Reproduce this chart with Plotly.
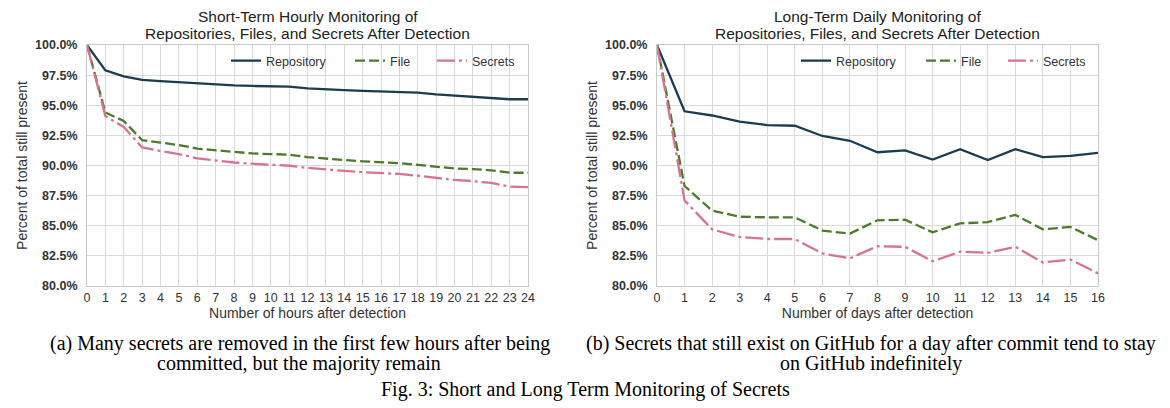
import plotly.graph_objects as go

hours = list(range(25))
hourly_repo = [100, 97.9, 97.4, 97.1, 97.0, 96.9, 96.8, 96.75, 96.65, 96.6, 96.6, 96.55, 96.4,
               96.3, 96.25, 96.2, 96.15, 96.1, 96.05, 95.9, 95.8, 95.75, 95.65, 95.5, 95.5]
hourly_file = [100, 94.4, 93.7, 92.1, 91.9, 91.7, 91.4, 91.25, 91.1, 91.0, 90.95, 90.9, 90.7,
               90.55, 90.45, 90.35, 90.3, 90.2, 90.05, 89.9, 89.75, 89.7, 89.6, 89.4, 89.4]
hourly_secrets = [100, 94.1, 93.2, 91.5, 91.2, 90.95, 90.6, 90.4, 90.25, 90.15, 90.05, 89.98, 89.8,
                  89.65, 89.55, 89.45, 89.4, 89.3, 89.15, 88.95, 88.8, 88.7, 88.55, 88.25, 88.2]

days = list(range(17))
daily_repo = [100, 94.5, 94.15, 93.65, 93.35, 93.3, 92.45, 92.05, 91.1, 91.25, 90.5, 91.35,
              90.45, 91.35, 90.7, 90.8, 91.05]
daily_file = [100, 88.3, 86.25, 85.75, 85.7, 85.7, 84.6, 84.35, 85.45, 85.5, 84.45, 85.2,
              85.3, 85.9, 84.7, 84.9, 83.8]
daily_secrets = [100, 87.1, 84.7, 84.07, 83.9, 83.9, 82.7, 82.3, 83.3, 83.25, 82.05, 82.85,
                 82.75, 83.25, 81.95, 82.2, 81.05]

series_names = ["Repository", "File", "Secrets"]
colors = ["#1d3b4f", "#4d7a2a", "#d77390"]
dashes = ["solid", "10px,4px", "18px,4px,3px,4px"]

y_ticks = [80, 82.5, 85, 87.5, 90, 92.5, 95, 97.5, 100]
y_ticklabels = [f"{v:.1f}%" for v in y_ticks]

# page body has an 8px margin, so the figure is placed at (8, 8) in the window
OFF = 8
W, H = 1170 - OFF, 408 - OFF


def px_x(v):
    return (v - OFF) / W


def px_y(v):
    return 1 - (v - OFF) / H


L1, R1 = px_x(87), px_x(528)
L2, R2 = px_x(657), px_x(1098)
T, B = px_y(45), px_y(286)

# legend item left positions (window pixels) for each panel
legend_px = [[226, 350, 432], [796, 921, 1003]]

fig = go.Figure()
legend_layouts = {}
k = 0
for p, (xs, data, xa, ya) in enumerate([
        (hours, [hourly_repo, hourly_file, hourly_secrets], "x", "y"),
        (days, [daily_repo, daily_file, daily_secrets], "x2", "y2")]):
    for i, (name, ys) in enumerate(zip(series_names, data)):
        k += 1
        lname = "legend" if k == 1 else f"legend{k}"
        fig.add_trace(go.Scatter(x=xs, y=ys, mode="lines", name=name,
                                 line=dict(color=colors[i], width=2.3, dash=dashes[i]),
                                 xaxis=xa, yaxis=ya, legend=lname))
        legend_layouts[lname] = dict(
            orientation="h", x=px_x(legend_px[p][i]), xanchor="left",
            y=px_y(61), yanchor="middle", bgcolor="rgba(0,0,0,0)",
            font=dict(family="Liberation Sans", size=12.5, color="#333333"),
            borderwidth=0, itemwidth=30)

axis_common = dict(showgrid=True, gridcolor="#dadada", gridwidth=1, showline=True,
                   linecolor="#c8c8c8", linewidth=1, mirror=True, zeroline=False,
                   automargin=False, ticks="",
                   tickfont=dict(family="Liberation Sans", size=12.5, color="#333333"))

fig.update_layout(
    width=W, height=H,
    margin=dict(l=0, r=0, t=0, b=0, autoexpand=False),
    paper_bgcolor="white", plot_bgcolor="white",
    font=dict(family="Liberation Sans", color="#333333"),
    xaxis=dict(domain=[L1, R1], anchor="y", range=[0, 24], tickmode="linear", dtick=1, tick0=0,
               title=dict(text="Number of hours after detection", font=dict(size=14), standoff=3),
               **axis_common),
    yaxis=dict(domain=[B, T], anchor="x", range=[80, 100], tickmode="array", tickvals=y_ticks,
               ticktext=[f"<b>{t}</b>" for t in y_ticklabels], ticklabelstandoff=6,
               title=dict(text="Percent of total still present", font=dict(size=14), standoff=4),
               **axis_common),
    xaxis2=dict(domain=[L2, R2], anchor="y2", range=[0, 16], tickmode="linear", dtick=1, tick0=0,
                title=dict(text="Number of days after detection", font=dict(size=14), standoff=3),
                **axis_common),
    yaxis2=dict(domain=[B, T], anchor="x2", range=[80, 100], tickmode="array", tickvals=y_ticks,
                ticktext=[f"<b>{t}</b>" for t in y_ticklabels], ticklabelstandoff=6,
                title=dict(text="Percent of total still present", font=dict(size=14), standoff=4),
                **axis_common),
    showlegend=True,
    **legend_layouts,
)

titles = [
    ("Short-Term Hourly Monitoring of", (L1 + R1) / 2, 17),
    ("Repositories, Files, and Secrets After Detection", (L1 + R1) / 2, 33),
    ("Long-Term Daily Monitoring of", (L2 + R2) / 2, 17),
    ("Repositories, Files, and Secrets After Detection", (L2 + R2) / 2, 33),
]
for text, x, ypx in titles:
    fig.add_annotation(text=text, x=x, y=px_y(ypx), xref="paper", yref="paper",
                       showarrow=False, xanchor="center", yanchor="middle",
                       font=dict(family="Liberation Sans", size=15.5, color="#222222"))

captions = [
    ("(a) Many secrets are removed in the first few hours after being", 300, 343),
    ("committed, but the majority remain", 299, 363),
    ("(b) Secrets that still exist on GitHub for a day after commit tend to stay", 871, 343),
    ("on GitHub indefinitely", 871, 363),
    ("Fig. 3: Short and Long Term Monitoring of Secrets", 585, 389),
]
for text, xpx, ypx in captions:
    fig.add_annotation(text=text, x=px_x(xpx), y=px_y(ypx), xref="paper", yref="paper",
                       showarrow=False, xanchor="center", yanchor="middle",
                       font=dict(family="Liberation Serif", size=20, color="#000000"))

fig.write_html("out.html")
